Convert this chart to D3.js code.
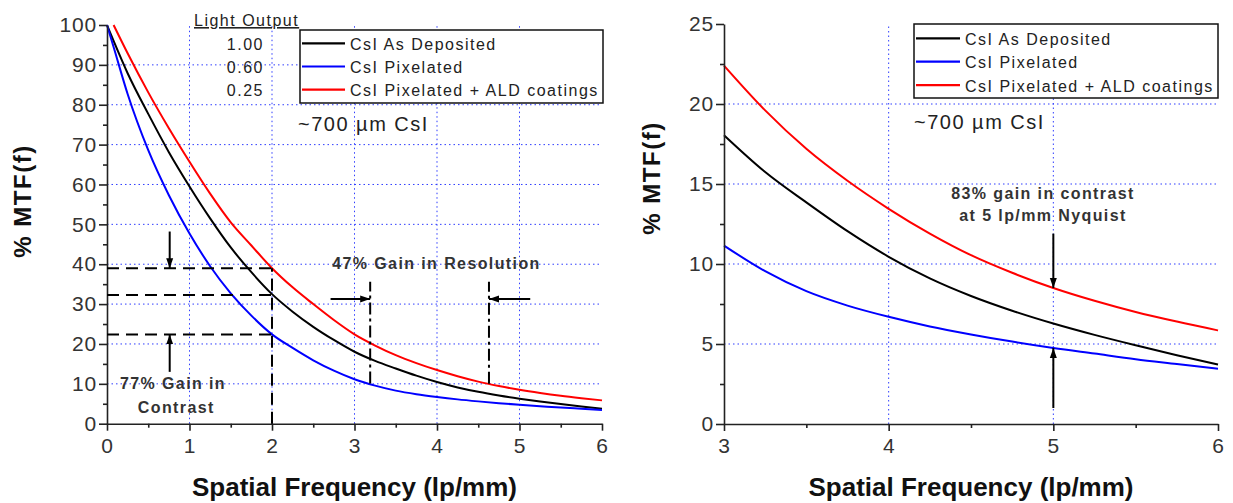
<!DOCTYPE html>
<html>
<head>
<meta charset="utf-8">
<script src="https://cdn.jsdelivr.net/npm/d3@7"></script>
<style>
  body { margin: 0; background: #fff; }
  svg { display: block; font-family: Arial, "Liberation Sans", sans-serif; }
  .grid line { stroke: #2f3dff; stroke-width: 1; stroke-dasharray: 1.5, 3; }
  .axis path, .axis line { stroke: #222; stroke-width: 1.6; }
  .axis text { font-size: 21px; fill: #333; font-family: Arial, "Liberation Sans", sans-serif; letter-spacing: 0.8px; }
  .title { font-size: 26px; font-weight: bold; fill: #111; }
  .ytitle { font-size: 24px; font-weight: bold; fill: #111; letter-spacing: 1.5px; }
  .leg text { font-size: 16px; fill: #222; letter-spacing: 1.5px; }
  .note { font-size: 16px; font-weight: bold; fill: #333; letter-spacing: 1.4px; }
</style>
</head>
<body>
<svg width="1233" height="503"></svg>
<script>
// spatial frequency (lp/mm)
const freq = [0, 0.08, 0.25, 0.5, 0.75, 1, 1.25, 1.5, 1.75, 2, 2.25, 2.5, 2.75, 3,
  3.25, 3.5, 3.75, 4, 4.25, 4.5, 4.75, 5, 5.25, 5.5, 5.75, 6];

// % MTF(f)
const asDeposited = [100, 96, 87.9, 77.7, 68.1, 59.5, 51.5, 44.2, 38.0, 32.5, 28.1, 24.3, 21.0, 18.05,
  15.75, 13.85, 12.05, 10.45, 9.1, 8.0, 7.08, 6.28, 5.57, 4.92, 4.3, 3.72];
const pixelated = [100, 94.5, 82.7, 68.6, 57.3, 47.7, 39.5, 32.7, 27.1, 22.4, 19.0, 15.9, 13.3, 11.15,
  9.55, 8.3, 7.4, 6.7, 6.1, 5.6, 5.15, 4.75, 4.4, 4.05, 3.75, 3.45];
const pixelatedALD = [null, 100, 92.9, 83.1, 74.1, 65.7, 57.7, 50.5, 44.7, 39.0, 34.2, 30.0, 26.0, 22.4,
  19.6, 17.2, 15.2, 13.45, 11.9, 10.55, 9.45, 8.5, 7.7, 7.0, 6.4, 5.85];

const seriesNames = ["CsI As Deposited", "CsI Pixelated", "CsI Pixelated + ALD coatings"];
const seriesColors = ["#000000", "#0000ff", "#ff0000"];
const seriesValues = [asDeposited, pixelated, pixelatedALD];
const lightOutput = ["1.00", "0.60", "0.25"];

// tick values
const leftXTicks = [0, 1, 2, 3, 4, 5, 6];
const leftYTicks = [0, 10, 20, 30, 40, 50, 60, 70, 80, 90, 100];
const rightXTicks = [3, 4, 5, 6];
const rightYTicks = [0, 5, 10, 15, 20, 25];

// annotation values (data units)
const contrastLevels = [39.0, 32.3, 22.4];   // dashed levels at 2 lp/mm
const resolutionMarks = [3.19, 4.63];        // dash-dot markers
const nyquistLevels = [8.5, 4.75];           // arrows at 5 lp/mm

const svg = d3.select("svg");

svg.append("defs").append("marker")
  .attr("id", "arrow").attr("viewBox", "0 0 10 10").attr("refX", 10).attr("refY", 5)
  .attr("markerWidth", 5).attr("markerHeight", 5).attr("orient", "auto-start-reverse")
  .attr("markerUnits", "strokeWidth")
  .append("path").attr("d", "M0,1.5 L10,5 L0,8.5 Z").attr("fill", "#000");

function panel(opt) {
  const x = d3.scaleLinear().domain(opt.xDomain).range(opt.xRange);
  const y = d3.scaleLinear().domain(opt.yDomain).range(opt.yRange);
  const g = svg.append("g");

  // grid
  const grid = g.append("g").attr("class", "grid");
  grid.selectAll(".gx").data(opt.xGrid).join("line")
    .attr("x1", d => x(d)).attr("x2", d => x(d))
    .attr("y1", y(opt.yDomain[0])).attr("y2", y(opt.yDomain[1]));
  grid.selectAll(".gy").data(opt.yGrid).join("line")
    .attr("x1", x(opt.xDomain[0])).attr("x2", x(opt.xDomain[1]))
    .attr("y1", d => y(d)).attr("y2", d => y(d));

  // curves
  const rows = freq.map((f, i) => ({ f, v: seriesValues.map(s => s[i]) }))
    .filter(r => r.f >= opt.xDomain[0]);
  seriesValues.forEach((s, k) => {
    const line = d3.line()
      .defined(r => r.v[k] != null)
      .x(r => x(r.f)).y(r => y(r.v[k]))
      .curve(d3.curveMonotoneX);
    g.append("path").datum(rows)
      .attr("fill", "none").attr("stroke", seriesColors[k]).attr("stroke-width", 2)
      .attr("d", line);
  });

  // axes
  const y0 = y(opt.yDomain[0]), x0 = x(opt.xDomain[0]);
  g.append("g").attr("class", "axis").attr("transform", `translate(0,${y0})`)
    .call(d3.axisBottom(x).tickValues(opt.xMinor).tickSize(4).tickFormat(""))
    .select(".domain").remove();
  g.append("g").attr("class", "axis").attr("transform", `translate(${x0},0)`)
    .call(d3.axisLeft(y).tickValues(opt.yMinor).tickSize(4).tickFormat(""))
    .select(".domain").remove();
  g.append("g").attr("class", "axis").attr("transform", `translate(0,${y0})`)
    .call(d3.axisBottom(x).tickValues(opt.xTicks).tickSize(7).tickPadding(7).tickSizeOuter(0).tickFormat(d3.format("d")));
  g.append("g").attr("class", "axis").attr("transform", `translate(${x0},0)`)
    .call(d3.axisLeft(y).tickValues(opt.yTicks).tickSize(8).tickPadding(2).tickSizeOuter(0).tickFormat(d3.format("d")));

  // axis titles
  g.append("text").attr("class", "title")
    .attr("x", (opt.xRange[0] + opt.xRange[1]) / 2).attr("y", 496)
    .attr("text-anchor", "middle").text("Spatial Frequency (lp/mm)");
  g.append("text").attr("class", "ytitle")
    .attr("transform", `translate(${opt.yTitleX},${opt.yTitleY}) rotate(-90)`)
    .attr("text-anchor", "middle").text("% MTF(f)");

  // legend
  const L = opt.legend;
  const leg = g.append("g").attr("class", "leg");
  leg.append("rect").attr("x", L.x).attr("y", L.y).attr("width", L.w).attr("height", L.h)
    .attr("fill", "#fff").attr("stroke", "#111").attr("stroke-width", 1.5);
  seriesNames.forEach((name, k) => {
    const cy = L.y + L.first + k * L.step;
    leg.append("line").attr("x1", L.x + 2).attr("x2", L.x + L.lineW)
      .attr("y1", cy).attr("y2", cy).attr("stroke", seriesColors[k]).attr("stroke-width", 2.2);
    leg.append("text").attr("x", L.x + L.lineW + 5).attr("y", cy + 6.5).text(name);
  });

  g.append("text").attr("x", opt.noteX).attr("y", opt.noteY)
    .attr("font-size", 20).attr("fill", "#222").attr("letter-spacing", 1.5)
    .text("~700 µm CsI");

  return { g, x, y };
}

function styled(sel, st) { Object.entries(st).forEach(([k, v]) => sel.attr(k, v)); return sel; }
const arrow = (g, x1, y1, x2, y2) => g.append("line")
  .attr("x1", x1).attr("y1", y1).attr("x2", x2).attr("y2", y2)
  .attr("stroke", "#000").attr("stroke-width", 2).attr("marker-end", "url(#arrow)");

// ---------- left panel ----------
const left = panel({
  xDomain: [0, 6], xRange: [107, 602],
  yDomain: [0, 100], yRange: [423.7, 25],
  xGrid: [1, 2, 3, 4, 5], yGrid: [10, 20, 30, 40, 50, 60, 70, 80, 90],
  xTicks: leftXTicks, yTicks: leftYTicks,
  xMinor: d3.range(0.5, 6, 1), yMinor: d3.range(5, 100, 10),
  yTitleX: 31, yTitleY: 201,
  legend: { x: 300, y: 30, w: 303, h: 73, first: 13.3, step: 23.2, lineW: 45 },
  noteX: 298, noteY: 131
});

// light output column
const lo = left.g.append("g").attr("class", "leg");
lo.append("text").attr("x", 194).attr("y", 26).attr("font-size", 15)
  .attr("text-decoration", "underline").text("Light Output");
lightOutput.forEach((t, k) => {
  lo.append("text").attr("x", 264).attr("y", 50 + k * 23.2)
    .attr("text-anchor", "end").text(t);
});

// contrast annotation (dashed lines at 2 lp/mm)
const lx = left.x, ly = left.y;
const dash = { stroke: "#000", "stroke-width": 2, "stroke-dasharray": "12,7" };

contrastLevels.forEach(v => {
  styled(left.g.append("line"), dash)
    .attr("x1", lx(0)).attr("x2", lx(2)).attr("y1", ly(v)).attr("y2", ly(v));
});
styled(left.g.append("line"), dash)
  .attr("x1", lx(2)).attr("x2", lx(2)).attr("y1", ly(0)).attr("y2", ly(contrastLevels[0]));

arrow(left.g, lx(0.76), ly(48.2), lx(0.76), ly(contrastLevels[0]));
arrow(left.g, lx(0.76), ly(13), lx(0.76), ly(contrastLevels[2]));

left.g.append("text").attr("class", "note").attr("x", lx(0.8)).attr("y", 389)
  .attr("text-anchor", "middle").text("77% Gain in");
left.g.append("text").attr("class", "note").attr("x", lx(0.84)).attr("y", 413)
  .attr("text-anchor", "middle").text("Contrast");

// resolution annotation (dash-dot lines)
const dashDot = { stroke: "#000", "stroke-width": 2, "stroke-dasharray": "12,4,3,4" };
styled(left.g.append("line"), dashDot)
  .attr("x1", lx(resolutionMarks[0])).attr("x2", lx(resolutionMarks[0]))
  .attr("y1", ly(10.1)).attr("y2", ly(35.6));
styled(left.g.append("line"), dashDot)
  .attr("x1", lx(resolutionMarks[1])).attr("x2", lx(resolutionMarks[1]))
  .attr("y1", ly(10.0)).attr("y2", ly(35.6));
arrow(left.g, lx(2.71), ly(31.3), lx(resolutionMarks[0]), ly(31.3));
arrow(left.g, lx(5.13), ly(31.3), lx(resolutionMarks[1]), ly(31.3));
left.g.append("text").attr("class", "note").attr("x", 436.5).attr("y", 269)
  .attr("text-anchor", "middle").text("47% Gain in Resolution");

// ---------- right panel ----------
const right = panel({
  xDomain: [3, 6], xRange: [724, 1218],
  yDomain: [0, 25], yRange: [424, 24],
  xGrid: [4, 5], yGrid: [5, 10, 15, 20],
  xTicks: rightXTicks, yTicks: rightYTicks,
  xMinor: [3.5, 4.5, 5.5], yMinor: [2.5, 7.5, 12.5, 17.5, 22.5],
  yTitleX: 660, yTitleY: 178,
  legend: { x: 914, y: 24, w: 304, h: 74, first: 14.3, step: 23.4, lineW: 46 },
  noteX: 914, noteY: 129
});

const rx = right.x, ry = right.y;
arrow(right.g, rx(5), ry(11.9), rx(5), ry(nyquistLevels[0]));
arrow(right.g, rx(5), ry(1.0), rx(5), ry(nyquistLevels[1]));
right.g.append("text").attr("class", "note")
  .attr("x", 1043).attr("y", 199).attr("text-anchor", "middle").text("83% gain in contrast");
right.g.append("text").attr("class", "note")
  .attr("x", 1043).attr("y", 221).attr("text-anchor", "middle").text("at 5 lp/mm Nyquist");
</script>
</body>
</html>
